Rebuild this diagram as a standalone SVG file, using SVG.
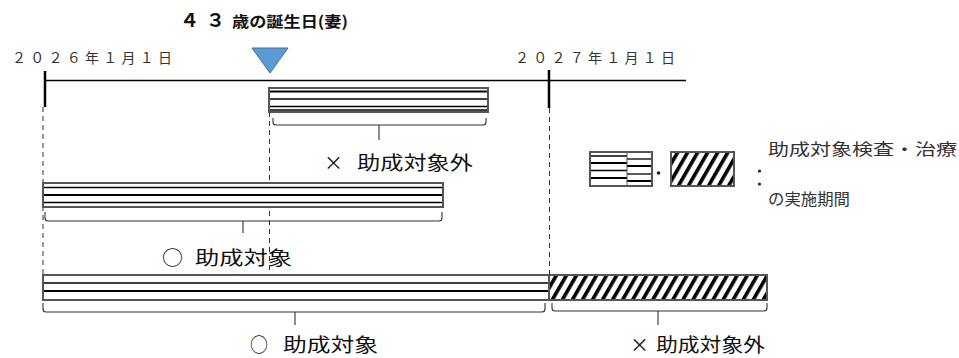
<svg xmlns="http://www.w3.org/2000/svg" width="959" height="358" viewBox="0 0 959 358">
<style>
.bg{fill:#fff}
.axis{stroke:#000;stroke-width:1.5;fill:none}
.tick{stroke:#000;stroke-width:2.5;fill:none}
.dash{stroke:#333;stroke-width:1;stroke-dasharray:5,4;fill:none}
.box{fill:#fff;stroke:#555;stroke-width:2}
.hbox{fill:url(#hatch);stroke:#555;stroke-width:2}
.ln{stroke:#000;stroke-width:1.3;fill:none}
.lnb{stroke:#000;stroke-width:2;fill:none}
.brace{stroke:#333;stroke-width:1.1;fill:none}
.date{font-family:"Noto Sans CJK JP","Liberation Serif",serif;font-size:14px;fill:#333}
.title{font-family:"Noto Sans CJK JP",sans-serif;font-weight:bold;fill:#111}
.lbl{font-family:"Noto Sans CJK JP",sans-serif;font-size:19px;fill:#111}
.leg{font-family:"Noto Sans CJK JP",sans-serif;font-size:16px;fill:#333}
</style>
<defs>
<pattern id="hatch" width="8.7" height="10" patternUnits="userSpaceOnUse" patternTransform="rotate(30)">
<rect x="0" y="0" width="8.7" height="10" fill="#fff"/>
<rect x="0" y="0" width="3.6" height="10" fill="#000"/>
</pattern>
</defs>
<rect class="bg" x="0" y="0" width="959" height="358"/>

<g id="title">
<text class="title" x="180" y="27" font-size="19">４</text>
<text class="title" x="206" y="27" font-size="19">３</text>
<text class="title" x="232" y="27" font-size="15" textLength="116" lengthAdjust="spacingAndGlyphs">歳の誕生日(妻)</text>
</g>

<g id="date-2026">
<text class="date" x="12" y="63" textLength="160" lengthAdjust="spacing">２０２６年１月１日</text>
</g>
<g id="date-2027">
<text class="date" x="515" y="63" textLength="160" lengthAdjust="spacing">２０２７年１月１日</text>
</g>

<g id="timeline">
<line class="axis" x1="45" y1="80.5" x2="686" y2="80.5"/>
<line class="tick" x1="45" y1="71" x2="45" y2="107"/>
<line class="tick" x1="549" y1="70" x2="549" y2="108"/>
</g>

<g id="birthday-marker">
<polygon points="252,48 288,48 270,73" fill="#5B9BD5" stroke="#41719C" stroke-width="1"/>
</g>

<g id="connectors">
<line class="dash" x1="43" y1="107" x2="43" y2="275"/>
<line class="dash" x1="549.5" y1="108" x2="549.5" y2="275"/>
<line class="dash" x1="269.5" y1="112" x2="269.5" y2="298"/>
</g>

<g id="bar-top">
<rect class="box" x="269" y="88" width="219" height="24"/>
<line class="lnb" x1="270" y1="91.5" x2="487" y2="91.5"/>
<line class="ln" x1="270" y1="99" x2="487" y2="99"/>
<line class="ln" x1="270" y1="106.5" x2="487" y2="106.5"/>
<line class="ln" x1="270" y1="110" x2="487" y2="110"/>
<path class="brace" d="M273,118 V122 Q273,125 276,125 H483 Q486,125 486,122 V118 M379,125 V140"/>
<text class="lbl" x="324" y="170">×</text>
<text class="lbl" x="357" y="170" textLength="116" lengthAdjust="spacingAndGlyphs">助成対象外</text>
</g>

<g id="bar-middle">
<rect class="box" x="43" y="183" width="400" height="24"/>
<line class="ln" x1="44" y1="187.5" x2="442" y2="187.5"/>
<line class="lnb" x1="44" y1="195" x2="442" y2="195"/>
<line class="ln" x1="44" y1="202.5" x2="442" y2="202.5"/>
<path class="brace" d="M45,212 V218 Q45,221 48,221 H439 Q442,221 442,218 V212 M243,221 V233"/>
<text class="lbl" x="162" y="265" textLength="21" lengthAdjust="spacingAndGlyphs">○</text>
<text class="lbl" x="195" y="265" textLength="97" lengthAdjust="spacingAndGlyphs">助成対象</text>
</g>

<g id="bar-bottom">
<rect class="box" x="43" y="275" width="506" height="25"/>
<line class="ln" x1="44" y1="283" x2="548" y2="283"/>
<line class="lnb" x1="44" y1="291" x2="548" y2="291"/>
<path class="brace" d="M43,303 V309 Q43,312 46,312 H542 Q545,312 545,309 V303 M295,312 V325"/>
<text class="lbl" x="250" y="352" textLength="18" lengthAdjust="spacingAndGlyphs">○</text>
<text class="lbl" x="283" y="352" textLength="95" lengthAdjust="spacingAndGlyphs">助成対象</text>
</g>

<g id="bar-hatched">
<rect class="hbox" x="549" y="275" width="218" height="25"/>
<path class="brace" d="M552,303 V308 Q552,311 555,311 H764 Q767,311 767,308 V303 M658,311 V325"/>
<text class="lbl" x="630" y="352">×</text>
<text class="lbl" x="656" y="352" textLength="109" lengthAdjust="spacingAndGlyphs">助成対象外</text>
</g>

<g id="legend">
<rect class="box" x="590" y="152" width="62" height="34"/>
<line class="ln" x1="591" y1="156" x2="627" y2="156"/>
<line class="lnb" x1="591" y1="163" x2="627" y2="163"/>
<line class="ln" x1="591" y1="170.5" x2="627" y2="170.5"/>
<line class="lnb" x1="591" y1="178" x2="627" y2="178"/>
<line class="ln" x1="627" y1="159" x2="651" y2="159"/>
<line class="lnb" x1="627" y1="166" x2="651" y2="166"/>
<line class="ln" x1="627" y1="174" x2="651" y2="174"/>
<line class="lnb" x1="627" y1="181" x2="651" y2="181"/>
<line stroke="#555" stroke-width="1" x1="627" y1="153" x2="627" y2="185"/>
<circle cx="658.5" cy="173" r="1.8" fill="#222"/>
<rect class="hbox" x="671" y="152" width="63" height="34"/>
<circle cx="759.5" cy="171" r="1.6" fill="#222"/>
<circle cx="759.5" cy="184" r="1.6" fill="#222"/>
<text class="leg" x="768" y="155" textLength="189" lengthAdjust="spacingAndGlyphs">助成対象検査・治療</text>
<text class="leg" x="768" y="205" textLength="82" lengthAdjust="spacingAndGlyphs">の実施期間</text>
</g>
</svg>
